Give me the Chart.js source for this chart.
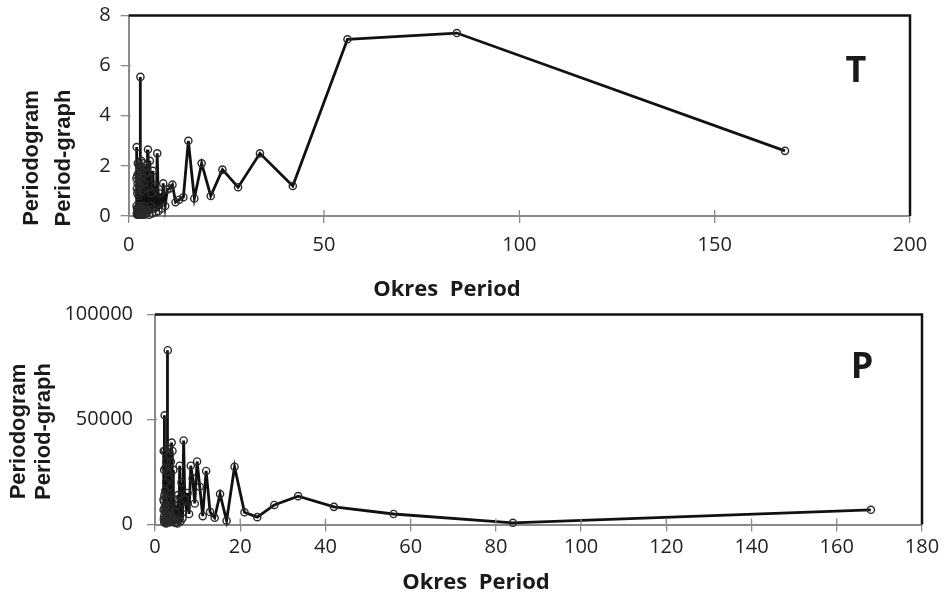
<!DOCTYPE html>
<html>
<head>
<meta charset="utf-8">
<script src="https://cdn.jsdelivr.net/npm/chart.js@4.4.0/dist/chart.umd.min.js"></script>
<style>
html,body{margin:0;padding:0;background:#fff;width:945px;height:596px;overflow:hidden;}
canvas{position:absolute;left:0;}
#c1{top:0;}
#c2{top:298px;}
</style>
</head>
<body>
<canvas id="c1" width="945" height="298" style="width:945px;height:298px"></canvas>
<canvas id="c2" width="945" height="298" style="width:945px;height:298px"></canvas>
<script>
// Periods (months), k = 1..84
const periods = [168.00,84.00,56.00,42.00,33.60,28.00,24.00,21.00,18.67,16.80,15.27,14.00,12.92,12.00,11.20,10.50,9.88,9.33,8.84,8.40,
8.00,7.64,7.30,7.00,6.72,6.46,6.22,6.00,5.79,5.60,5.42,5.25,5.09,4.94,4.80,4.67,4.54,4.42,4.31,4.20,
4.10,4.00,3.91,3.82,3.73,3.65,3.57,3.50,3.43,3.36,3.29,3.23,3.17,3.11,3.05,3.00,2.95,2.90,2.85,2.80,
2.75,2.71,2.67,2.63,2.58,2.55,2.51,2.47,2.43,2.40,2.37,2.33,2.30,2.27,2.24,2.21,2.18,2.15,2.13,2.10,
2.07,2.05,2.02,2.00];

// Periodogram values for T
const valuesT = [2.6,7.3,7.05,1.2,2.5,1.15,1.85,0.8,2.1,0.7,3.0,0.75,0.65,0.55,1.25,1.1,1.05,0.4,1.3,0.3,
0.9,0.2,2.5,0.15,1.2,0.3,1.8,0.1,0.9,0.4,2.2,0.05,1.5,2.65,0.2,1.7,0.1,2.0,0.3,1.1,
0.05,1.9,0.4,1.3,0.1,2.1,0.2,1.0,0.05,1.6,0.3,2.2,0.1,1.4,0.2,5.55,0.1,1.9,0.3,1.2,
0.05,2.0,0.4,1.5,0.1,0.8,0.2,1.7,0.05,1.0,0.3,2.1,0.1,1.3,0.2,0.9,0.05,1.6,0.3,1.1,
0.1,2.75,0.4,1.5];

// Periodogram values for P
const valuesP = [7000,800,5000,8400,13500,9300,3500,5800,27500,1800,14500,3200,6000,25500,4000,18000,30000,10000,22000,28000,
5000,15000,8000,12000,40000,3000,20000,1500,28000,2000,14000,500,9000,1000,6000,800,12000,2000,26000,3000,
35000,1500,39000,4000,30000,2000,18000,6000,33000,1000,22000,8000,36000,3000,15000,83000,2000,25000,5000,12000,
1000,30000,4000,20000,500,9000,3000,27000,1500,16000,6000,35000,2000,52000,8000,14000,1000,26000,4000,11000,
2500,35000,7000,12000];

const ticksT_x = [0,50,100,150,200];
const ticksT_y = [0,2,4,6,8];
const ticksP_x = [0,20,40,60,80,100,120,140,160,180];
const ticksP_y = [0,50000,100000];

const xTitle = 'Okres  Period';
const yTitle = ['Periodogram','Period-graph'];

Chart.defaults.font.family = "'Open Sans', 'Liberation Sans', sans-serif";
Chart.defaults.font.size = 20;
Chart.defaults.color = '#222';
Chart.defaults.animation = false;

function makeData(xs, ys){ return xs.map((x,i)=>({x:x, y:ys[i]})); }

function annotPlugin(cfg){
  return {
    id:'annot',
    afterDraw(chart){
      const {ctx, chartArea:a, scales} = chart;
      ctx.save();
      ctx.strokeStyle = '#8a8a8a'; ctx.lineWidth = 1.3;
      cfg.xticks.forEach(v=>{
        const px = scales.x.getPixelForValue(v);
        ctx.beginPath(); ctx.moveTo(px, a.bottom); ctx.lineTo(px, a.bottom-6); ctx.stroke();
      });
      cfg.yticks.forEach(v=>{
        const py = scales.y.getPixelForValue(v);
        ctx.beginPath(); ctx.moveTo(a.left, py); ctx.lineTo(a.left+2, py); ctx.stroke();
      });
      ctx.strokeStyle = '#111'; ctx.lineWidth = 2.5;
      ctx.beginPath(); ctx.moveTo(a.left, a.top); ctx.lineTo(a.right, a.top); ctx.lineTo(a.right, a.bottom); ctx.stroke();
      ctx.fillStyle = '#1a1a1a';
      ctx.textAlign = 'center'; ctx.textBaseline = 'middle';
      ctx.font = "bold 22px 'Open Sans', 'Liberation Sans', sans-serif";
      ctx.fillText(xTitle, cfg.xt[0], cfg.xt[1]);
      ctx.font = "bold 22px 'Liberation Sans', 'Open Sans', sans-serif";
      yTitle.forEach((t,i)=>{
        ctx.save();
        ctx.translate(cfg.yt[i], cfg.ytY);
        ctx.rotate(-Math.PI/2);
        ctx.fillText(t, 0, 0);
        ctx.restore();
      });
      ctx.font = "bold 36px 'Open Sans', 'Liberation Sans', sans-serif";
      ctx.fillText(cfg.label, cfg.lp[0], cfg.lp[1]);
      ctx.restore();
    }
  };
}

function makeChart(id, xs, ys, o){
  return new Chart(document.getElementById(id), {
    type:'line',
    data:{datasets:[{
      data: makeData(xs, ys),
      borderColor:'#111', borderWidth:2.8, tension:0,
      pointRadius:3.6, pointBackgroundColor:'rgba(255,255,255,0)', pointBorderColor:'#2a2a2a', pointBorderWidth:1.4,
      clip:false
    }]},
    options:{
      responsive:false,
      devicePixelRatio:1,
      layout:{padding:o.padding},
      plugins:{legend:{display:false}, tooltip:{enabled:false}},
      scales:{
        x:{type:'linear', min:o.xticks[0], max:o.xticks[o.xticks.length-1],
           afterBuildTicks(s){ s.ticks = o.xticks.map(v=>({value:v})); },
           afterFit(s){ s.height = 50; s.paddingLeft = 0; s.paddingRight = 0; s.paddingTop = 0; s.paddingBottom = 0; },
           border:{color:'#8a8a8a', width:2},
           grid:{drawOnChartArea:false, color:'#8a8a8a', tickLength:7, lineWidth:1.3},
           ticks:{padding:o.xpad, callback:v=>String(v), maxRotation:0, autoSkip:false}},
        y:{type:'linear', min:o.yticks[0], max:o.yticks[o.yticks.length-1],
           afterBuildTicks(s){ s.ticks = o.yticks.map(v=>({value:v})); },
           afterFit(s){ s.width = o.ywidth; s.paddingLeft = 0; s.paddingRight = 0; s.paddingTop = 0; s.paddingBottom = 0; },
           border:{color:'#8a8a8a', width:2},
           grid:{drawOnChartArea:false, color:'#8a8a8a', tickLength:8, lineWidth:1.3},
           ticks:{padding:o.ypad, callback:v=>String(v)}}
      }
    },
    plugins:[annotPlugin({xticks:o.xticks, yticks:o.yticks, xt:o.xt, yt:o.yt, ytY:o.ytY, label:o.label, lp:o.lp})]
  });
}

makeChart('c1', periods, valuesT, {
  padding:{left:0, top:15.5, right:35, bottom:298-216-50},
  ywidth:128.7, xticks:ticksT_x, yticks:ticksT_y, xpad:10, ypad:10,
  xt:[447,290], yt:[32,63.5], ytY:158, label:'T', lp:[856,72]
});

makeChart('c2', periods, valuesP, {
  padding:{left:0, top:16.5, right:23, bottom:298-226.5-50},
  ywidth:155, xticks:ticksP_x, yticks:ticksP_y, xpad:4, ypad:14,
  xt:[476,285], yt:[19,44], ytY:133.5, label:'P', lp:[862,70]
});
</script>
</body>
</html>
